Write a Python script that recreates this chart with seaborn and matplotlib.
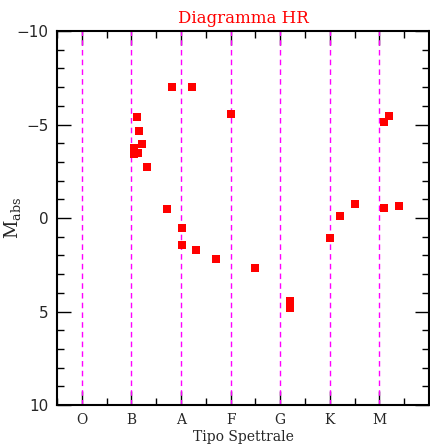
import matplotlib
matplotlib.use("Agg")
import matplotlib.pyplot as plt
import seaborn as sns
import pandas as pd
from matplotlib.ticker import MultipleLocator

spectral_types = ["O", "B", "A", "F", "G", "K", "M"]
type_positions = [1, 2, 3, 4, 5, 6, 7]

star_x = [2.82, 3.22, 2.12, 4.00, 2.16, 2.22, 2.06, 2.14, 2.06, 2.32,
          2.72, 3.02, 3.02, 3.30, 3.70, 4.50, 5.20, 5.20,
          6.00, 6.20, 6.50, 7.10, 7.39, 7.20, 7.09]
star_mag = [-7.0, -7.0, -5.42, -5.58, -4.67, -3.97, -3.74, -3.49, -3.44, -2.74,
            -0.50, 0.52, 1.43, 1.70, 2.18, 2.65, 4.44, 4.81,
            1.05, -0.12, -0.73, -0.55, -0.66, -5.47, -5.13]

df = pd.DataFrame({"tipo": star_x, "mabs": star_mag})

sns.set_style("ticks")
plt.rcParams["font.family"] = ["DejaVu Serif"]
plt.rcParams["mathtext.fontset"] = "dejavuserif"

fig = plt.figure(figsize=(4.30, 4.46), dpi=100)
ax = fig.add_axes([0.1326, 0.0919, 0.865, 0.8386])

for xp in type_positions:
    ax.axvline(xp, color="#ff00ff", linestyle=(0, (4, 3)), linewidth=1.0, zorder=1)

sns.scatterplot(data=df, x="tipo", y="mabs", marker="s", s=34, color="#ff0000",
                linewidth=0, ax=ax, zorder=3)

ax.set_xlim(0.5, 8.0)
ax.set_ylim(10, -10)
ax.set_xticks(type_positions)
ax.set_xticklabels(spectral_types, fontsize=10)
ax.xaxis.set_minor_locator(MultipleLocator(0.5))
ax.set_yticks([-10, -5, 0, 5, 10])
ax.set_yticklabels(["\u221210", "\u22125", "0", "5", "10"], fontsize=11, family="DejaVu Sans")
ax.yaxis.set_minor_locator(MultipleLocator(1))

ax.tick_params(which="both", direction="in", top=True, right=True, color="black", width=1.0)
ax.tick_params(which="major", length=10, pad=6)
ax.tick_params(which="minor", length=5)
for sp in ax.spines.values():
    sp.set_linewidth(1.5)
    sp.set_color("black")

ax.set_xlabel("Tipo Spettrale", fontsize=10, labelpad=2)
ax.set_ylabel(r"$\mathrm{M}_{\mathrm{abs}}$", fontsize=13)
ax.yaxis.set_label_coords(-0.092, 0.5)
ax.set_title("Diagramma HR", color="#ff0000", fontsize=12, pad=6)

fig.savefig("out.png", dpi=100)
